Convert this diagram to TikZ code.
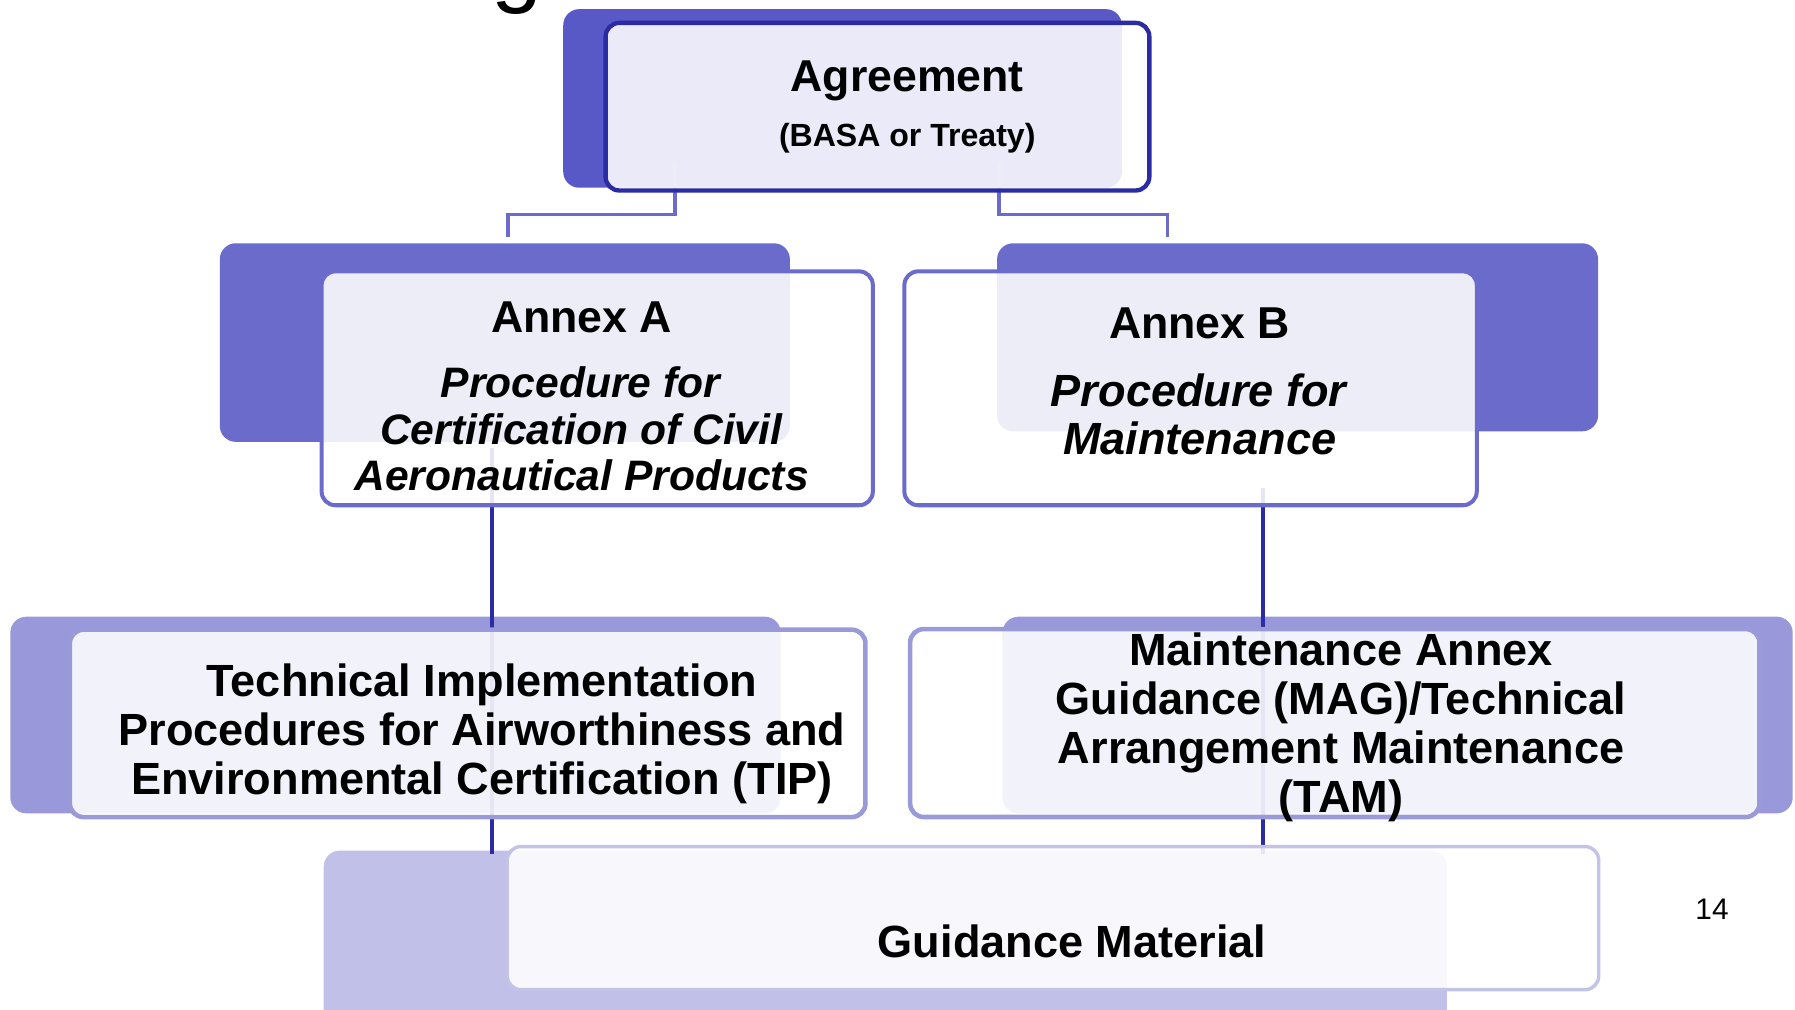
\documentclass[tikz,border=0pt]{standalone}
\usepackage{fontspec}
\setmainfont{Liberation Sans}
\usetikzlibrary{calc}
\definecolor{agreeBack}{HTML}{5858C6}
\definecolor{agreeLine}{HTML}{2B2BA3}
\definecolor{annexBack}{HTML}{6B6BCB}
\definecolor{tipBack}{HTML}{9898DA}
\definecolor{tipLine}{HTML}{9A9AD8}
\definecolor{guideBack}{HTML}{C0C0E8}
\definecolor{guideLine}{HTML}{C3C3E7}
\pgfdeclarelayer{back}
\pgfdeclarelayer{links}
\pgfsetlayers{back,links,main}

\begin{document}
\begin{tikzpicture}[x=0.5pt,y=-0.5pt,
    box/.style={draw=#1,rounded corners=6pt,fill=white,fill opacity=0.88,inner sep=0pt},
    txt/.style={font=\bfseries\fontsize{19.7}{21.4}\selectfont,align=center},
    link/.style={draw=#1,line width=1.5pt}]

  \useasboundingbox (0,0) rectangle (1568,882);

  % shadow blocks behind the boxes
  \begin{pgfonlayer}{back}
  \foreach \c/\xa/\ya/\xb/\yb in {agreeBack/492/8/980/164, annexBack/192/212.5/690/386,
      annexBack/871/212.5/1396/376.8, tipBack/9/538.7/682/710.5,
      tipBack/875.7/538.7/1566/710.5, guideBack/282.8/743/1263.8/910}
    \fill[\c,rounded corners=7pt] (\xa,\ya) rectangle (\xb,\yb);
  \end{pgfonlayer}

  % boxes: name/colour/x/y/width/height/line width
  \foreach \n/\c/\x/\y/\w/\h/\lw in {agree/agreeLine/766.5/93.2/237.5/73.2/1.9,
      annA/annexBack/521.7/339.2/240.75/102.15/1.75, annB/annexBack/1040/339.2/250/102.15/1.75,
      tip/tipLine/408.5/631.9/347.5/81.85/2, mag/tipLine/1166/631.6/371/82.1/2,
      guide/guideLine/919.8/802/476.75/62.5/1.5}
    \node[box=\c,line width=\lw pt,minimum width=\w pt,minimum height=\h pt] (\n) at (\x,\y) {};

  \begin{pgfonlayer}{links}
  \draw[link=annexBack] ($(agree.south)+(-177,-27)$) |- ($(annA.north)+(-78,-48)$) -- ++(0,20); % left branch
  \draw[link=annexBack] ($(agree.south)+(106,-27)$) |- ($(annB.north)+(-20,-48)$) -- ++(0,20); % right branch
  \coordinate (tapA) at ($(annA.south)+(-92,-52)$);
  \coordinate (tapB) at ($(annB.south)+(63,-17)$);
  \draw[link=agreeLine,line width=1.7pt,shorten >=-4pt] (tapA) -- (tapA |- guide.north);
  \draw[link=agreeLine,line width=1.7pt,shorten >=-4pt] (tapB) -- (tapB |- guide.north);
  \end{pgfonlayer}

  \node[txt,font=\bfseries\fontsize{19.5}{22}\selectfont,anchor=base] (agreeTxt) at (792.5,80) {Agreement};
  \node[txt,font=\bfseries\fontsize{14}{16}\selectfont,anchor=base] (basaTxt) at (792.5,128) {(BASA or Treaty)};
  \node[txt,font=\bfseries\fontsize{18.6}{20.25}\selectfont] (annATxt) at (508,346.5)
    {{\fontsize{19.5}{20.25}\selectfont Annex A}\\[8.15pt]\textit{Procedure for}\\\textit{Certification of Civil}\\\textit{Aeronautical Products}};
  \node[txt,font=\bfseries\fontsize{19.7}{20.8}\selectfont] (annBTxt) at (1048,333.3)
    {{\fontsize{19.5}{20.8}\selectfont Annex B}\\[9pt]\textit{Procedure for}\\\textit{Maintenance}};
  \node[txt,font=\bfseries\fontsize{19.7}{21.25}\selectfont] (tipTxt) at (421,641)
    {Technical Implementation\\Procedures for Airworthiness and\\Environmental Certification (TIP)};
  \node[txt] (magTxt) at (1171.5,635.5)
    {Maintenance Annex\\Guidance (MAG)/Technical\\Arrangement Maintenance\\(TAM)};
  \node[txt,anchor=base] (guideTxt) at (936.5,836.5) {Guidance Material};
  \node[font=\fontsize{13}{15}\selectfont,anchor=base] (pageNo) at (1495.5,803.6) {14};
  \node[font=\fontsize{40}{48}\selectfont,anchor=base] (titleCut) at (452,-4) {g}; % cut-off title letter

\end{tikzpicture}
\end{document}
